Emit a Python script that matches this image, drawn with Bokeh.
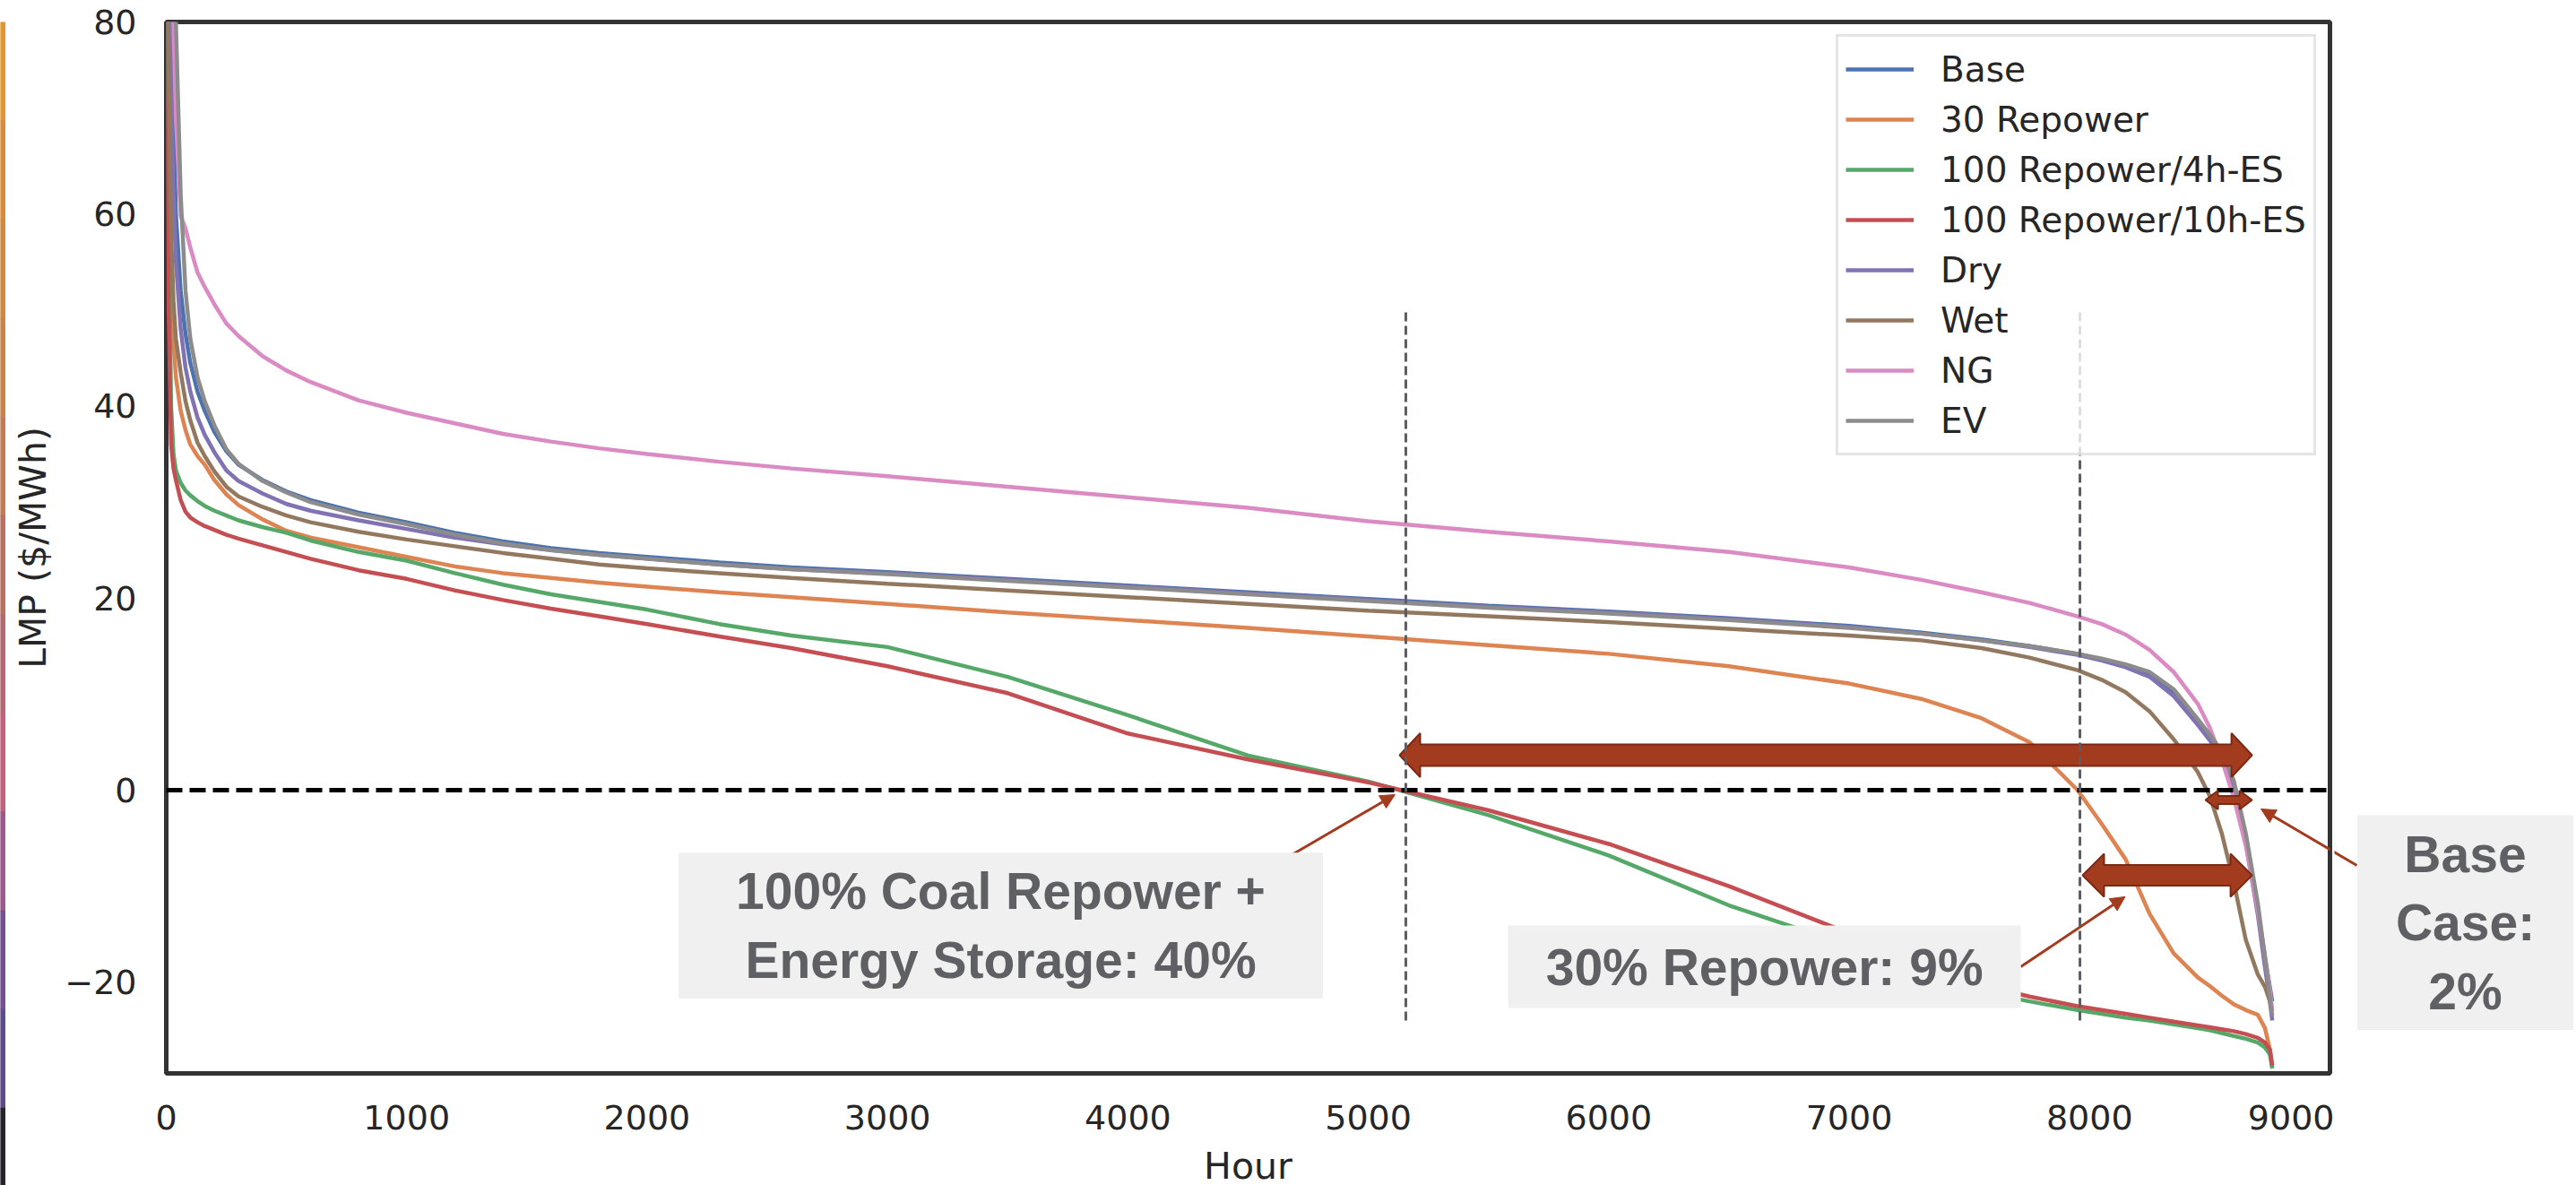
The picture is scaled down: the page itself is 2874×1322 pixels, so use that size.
from bokeh.plotting import figure
from bokeh.layouts import row
from bokeh.models import Span, Label, Arrow, NormalHead, FixedTicker, Range1d
from bokeh.embed import file_html
from bokeh.resources import INLINE

# ---------------- data ----------------
HOURS = [0, 10, 20, 30, 40, 60, 80, 100, 130, 160, 200, 250, 300, 400, 500, 600, 800,
         1000, 1200, 1400, 1600, 1800, 2000, 2300, 2600, 3000, 3500, 4000, 4500, 5000,
         5500, 6000, 6500, 7000, 7300, 7550, 7750, 7950, 8050, 8150, 8250, 8350, 8450,
         8500, 8550, 8600, 8650, 8700, 8730, 8750, 8760]

BASE = [110, 95, 82, 70, 60, 52, 47.5, 44.5, 41.5, 39.5, 37.3, 35.3, 33.9, 32.3, 31.1,
        30.2, 28.9, 27.9, 26.8, 25.9, 25.2, 24.7, 24.3, 23.7, 23.2, 22.7, 22.0, 21.3,
        20.6, 19.9, 19.2, 18.6, 17.9, 17.1, 16.4, 15.7, 15.0, 14.2, 13.6, 12.9, 12.0,
        10.1, 7.1, 5.6, 3.8, 0.6, -5.0, -12.5, -17.5, -20.5, -22.0]
REPOWER30 = [100, 75, 55, 47, 43, 39.5, 37.5, 36.0, 34.8, 33.9, 32.3, 30.8, 29.7, 28.2,
             27.0, 26.3, 25.3, 24.3, 23.3, 22.6, 22.1, 21.6, 21.2, 20.6, 20.1, 19.4, 18.5,
             17.7, 16.9, 16.0, 15.1, 14.2, 12.9, 11.1, 9.5, 7.5, 5.0, 0.0, -3.5, -7.2,
             -12.9, -17.0, -19.5, -20.4, -21.4, -22.3, -22.9, -23.4, -24.8, -27.0, -28.8]
REPOWER100_4H = [90, 60, 40, 35, 33.3, 32.0, 31.2, 30.7, 30.1, 29.6, 29.1, 28.6, 28.1, 27.4,
                 26.8, 26.0, 24.8, 23.9, 22.6, 21.4, 20.4, 19.6, 18.8, 17.3, 16.1, 14.9,
                 11.8, 7.8, 3.6, 0.9, -2.6, -6.8, -12.0, -16.2, -19.0, -21.0, -22.0, -22.9,
                 -23.3, -23.7, -24.0, -24.4, -24.8, -25.0, -25.3, -25.6, -25.9, -26.3,
                 -26.8, -27.5, -29.0]
REPOWER100_10H = [90, 50, 36, 33.5, 32.3, 30.2, 29.0, 28.4, 27.9, 27.5, 27.1, 26.6, 26.2,
                  25.5, 24.8, 24.1, 22.9, 22.0, 20.8, 19.8, 18.9, 18.1, 17.3, 16.0, 14.8,
                  12.9, 10.1, 5.9, 3.2, 0.8, -2.1, -5.6, -10.0, -14.9, -18.2, -20.3, -21.5,
                  -22.5, -22.9, -23.3, -23.7, -24.1, -24.5, -24.7, -24.9, -25.1, -25.4,
                  -25.8, -26.3, -27.0, -28.7]
DRY = [110, 90, 72, 62, 55, 48, 44, 41.5, 38.8, 37.0, 35.2, 33.3, 32.2, 30.9, 29.8,
       29.1, 28.1, 27.2, 26.3, 25.6, 25.0, 24.5, 24.1, 23.5, 23.0, 22.6, 21.9, 21.2,
       20.5, 19.8, 19.1, 18.5, 17.8, 17.0, 16.3, 15.6, 14.9, 14.1, 13.5, 12.8, 11.8,
       9.8, 6.8, 5.2, 3.3, 0.0, -5.5, -13.0, -18.5, -22.0, -24.0]
WET = [100, 75, 58, 51, 47, 43.5, 40.5, 38.5, 36.2, 34.8, 33.2, 31.6, 30.6, 29.5, 28.6,
       27.9, 26.9, 26.1, 25.4, 24.7, 24.1, 23.5, 23.1, 22.6, 22.1, 21.5, 20.8, 20.1,
       19.4, 18.7, 18.1, 17.5, 16.8, 16.1, 15.6, 14.8, 13.8, 12.5, 11.5, 10.2, 8.2,
       5.3, 1.9, -0.6, -4.5, -9.6, -15.6, -19.2, -20.5, -22.0, -23.0]
NG = [120, 100, 90, 80, 70, 59.8, 58.5, 56.5, 53.9, 52.4, 50.6, 48.6, 47.3, 45.2, 43.7,
      42.5, 40.6, 39.3, 38.2, 37.1, 36.3, 35.6, 35.0, 34.2, 33.5, 32.7, 31.6, 30.5,
      29.4, 28.0, 26.9, 25.9, 24.8, 23.2, 21.9, 20.6, 19.5, 18.1, 17.3, 16.2, 14.6,
      12.3, 9.0, 6.5, 3.2, -0.8, -5.8, -12.5, -17.3, -20.8, -23.0]
EV = [120, 110, 100, 90, 80, 62, 52, 47, 43, 40.5, 38, 35.5, 34.0, 32.2, 31.0,
      30.0, 28.7, 27.7, 26.6, 25.7, 25.0, 24.5, 24.1, 23.5, 23.0, 22.5, 21.8, 21.1,
      20.4, 19.7, 19.0, 18.4, 17.7, 16.9, 16.3, 15.6, 15.0, 14.2, 13.7, 13.1, 12.3,
      10.5, 7.4, 5.8, 4.0, 1.0, -4.5, -11.8, -17.5, -21.5, -23.5]

SERIES_NAMES = ["Base", "30 Repower", "100 Repower/4h-ES", "100 Repower/10h-ES",
                "Dry", "Wet", "NG", "EV"]
SERIES_VALUES = [BASE, REPOWER30, REPOWER100_4H, REPOWER100_10H, DRY, WET, NG, EV]
SERIES_COLORS = ["#4C72B0", "#DD8452", "#55A868", "#C44E52",
                 "#8172B3", "#937860", "#DA8BC3", "#8C8C8C"]

X_TICKS = [0, 1000, 2000, 3000, 4000, 5000, 6000, 7000, 8000, 9000]
Y_TICKS = [-20, 0, 20, 40, 60, 80]

# annotation elements (data coordinates)
VLINES_X = [5156, 7960]
VLINE_Y = (-24, 50)
# double arrows: (x_start, x_end, y_center, shaft half px, head half px, head length px)
BLOCK_ARROWS = [(5130, 8676, 3.64, 12, 24.5, 23),
                (7971, 8676, -8.87, 11.5, 24, 24),
                (8482, 8676, -1.03, 4.5, 10.5, 14)]
POINTERS = [((4612, -7.75), (5111, -0.47)),
            ((7714, -18.4), (8148, -11.1)),
            ((9112, -7.84), (8713, -1.96))]
BOXES = [(3471, -14.1, "100% Coal Repower +\nEnergy Storage: 40%", 64, 11),
         (6648, -18.4, "30% Repower: 9%", 42, 14)]
SIDE_BOX = (9563, -13.8, "Base\nCase:\n2%", 43, 11)

# decorative slide strip on the far left (top -> bottom)
STRIP_COLORS = ["#E5952F", "#D98C38", "#D08A40", "#C9844A", "#C27B55", "#B9705F",
                "#B66870", "#C2607C", "#9A5A8A", "#74508E", "#604B8A", "#26232C"]

X_RANGE = (0, 9000)
Y_RANGE = (-29.5, 80)
FRAME_W, FRAME_H = 2414, 1173
TOP, BOTTOM = 24, 125
STRIP_W = 6
SIDE_W = 268

RUST = "#A33B1F"
RUST_DARK = "#7A2A14"
INK = "#262626"
BOX_FILL = "#F0F0F0"
BOX_TEXT = "#5F6064"

p = figure(frame_width=FRAME_W, frame_height=FRAME_H,
           min_border_left=185 - STRIP_W, min_border_right=5,
           min_border_top=TOP, min_border_bottom=BOTTOM,
           x_range=Range1d(*X_RANGE), y_range=Range1d(*Y_RANGE),
           output_backend="svg", toolbar_location=None)

p.background_fill_color = "white"
p.border_fill_color = "white"
p.outline_line_color = "#333333"
p.outline_line_width = 5
p.xgrid.visible = False
p.ygrid.visible = False

for ax in (p.xaxis, p.yaxis):
    ax.axis_line_color = None
    ax.major_tick_line_color = None
    ax.minor_tick_line_color = None
    ax.major_tick_out = 0
    ax.major_tick_in = 0
    ax.major_label_text_font = "DejaVu Sans"
    ax.major_label_text_font_size = "38px"
    ax.major_label_text_color = INK
    ax.axis_label_text_font = "DejaVu Sans"
    ax.axis_label_text_font_size = "41px"
    ax.axis_label_text_font_style = "normal"
    ax.axis_label_text_color = INK

p.xaxis.ticker = FixedTicker(ticks=X_TICKS)
p.yaxis.ticker = FixedTicker(ticks=Y_TICKS)
p.yaxis.major_label_overrides = {t: str(t).replace("-", "\u2212") for t in Y_TICKS}
p.xaxis.major_label_standoff = 35
p.yaxis.major_label_standoff = 33
p.xaxis.axis_label = "Hour"
p.yaxis.axis_label = "LMP ($/MWh)"
p.xaxis.axis_label_standoff = 14
p.yaxis.axis_label_standoff = 8

# curves
for name, vals, col in zip(SERIES_NAMES, SERIES_VALUES, SERIES_COLORS):
    p.line(HOURS, vals, line_color=col, line_width=4.5, legend_label=name)

# zero line
p.add_layout(Span(location=0, dimension="width", line_color="black",
                  line_width=5, line_dash="18 8"))

# block arrows
DX = (X_RANGE[1] - X_RANGE[0]) / FRAME_W
DY = (Y_RANGE[1] - Y_RANGE[0]) / FRAME_H
xs, ys = [], []
for x0, x1, yc, sh, hh, hl in BLOCK_ARROWS:
    a, b = x0 + hl * DX, x1 - hl * DX
    xs.append([x0, a, a, b, b, x1, b, b, a, a])
    ys.append([yc, yc + hh * DY, yc + sh * DY, yc + sh * DY, yc + hh * DY, yc,
               yc - hh * DY, yc - sh * DY, yc - sh * DY, yc - hh * DY])
p.patches(xs, ys, fill_color=RUST, line_color=RUST_DARK, line_width=2, level="overlay")

# vertical dashed lines
p.segment(x0=VLINES_X, y0=[VLINE_Y[0]] * len(VLINES_X),
          x1=VLINES_X, y1=[VLINE_Y[1]] * len(VLINES_X),
          line_color="#5A5D63", line_width=3, line_dash="10 5", level="overlay")

# pointer arrows
for (sx, sy), (ex, ey) in POINTERS:
    p.add_layout(Arrow(end=NormalHead(size=16, fill_color=RUST, line_color=RUST),
                       x_start=sx, y_start=sy, x_end=ex, y_end=ey,
                       line_color=RUST, line_width=3))


def box_label(bx, by, txt, padx, pady):
    return Label(x=bx, y=by, text=txt, text_align="center", text_baseline="middle",
                 text_font="Liberation Sans", text_font_size="57px",
                 text_font_style="bold", text_color=BOX_TEXT,
                 background_fill_color=BOX_FILL,
                 padding=dict(left=padx, right=padx, top=pady, bottom=pady))


for b in BOXES:
    p.add_layout(box_label(*b))

# legend
lg = p.legend[0]
lg.location = (2048 - 185, FRAME_H + TOP - 508)
lg.margin = 0
lg.padding = 8
lg.spacing = 0
lg.glyph_width = 76
lg.glyph_height = 56
lg.label_height = 56
lg.label_standoff = 30
lg.label_text_font = "DejaVu Sans"
lg.label_text_font_size = "39px"
lg.label_text_color = INK
lg.border_line_color = "#CCCCCC"
lg.border_line_width = 3
lg.background_fill_alpha = 0.8

# ---- right-hand panel (continues the data coordinates past the axes) ----
SIDE_X0 = X_RANGE[1] + (5) * DX
side = figure(frame_width=SIDE_W, frame_height=FRAME_H,
              min_border_left=0, min_border_right=0,
              min_border_top=TOP, min_border_bottom=BOTTOM,
              x_range=Range1d(SIDE_X0, SIDE_X0 + SIDE_W * DX), y_range=Range1d(*Y_RANGE),
              x_axis_type=None, y_axis_type=None,
              output_backend="svg", toolbar_location=None)
side.outline_line_color = None
side.xgrid.visible = False
side.ygrid.visible = False
(sx, sy), (ex, ey) = POINTERS[2]
side.add_layout(Arrow(end=None, x_start=sx, y_start=sy, x_end=ex, y_end=ey,
                      line_color=RUST, line_width=3))
side.add_layout(box_label(*SIDE_BOX))

# ---- thin decorative strip at far left ----
n = len(STRIP_COLORS)
strip = figure(frame_width=STRIP_W, frame_height=TOP + FRAME_H + BOTTOM,
               min_border_left=0, min_border_right=0, min_border_top=0, min_border_bottom=0,
               x_range=Range1d(0, 1), y_range=Range1d(n, 0),
               x_axis_type=None, y_axis_type=None,
               output_backend="svg", toolbar_location=None)
strip.outline_line_color = None
strip.xgrid.visible = False
strip.ygrid.visible = False
strip.quad(left=[0] * n, right=[1] * n, top=list(range(n)), bottom=list(range(1, n + 1)),
           fill_color=STRIP_COLORS, line_color=STRIP_COLORS)

layout = row(strip, p, side, spacing=0)
open("out.html", "w").write(file_html(layout, INLINE))
